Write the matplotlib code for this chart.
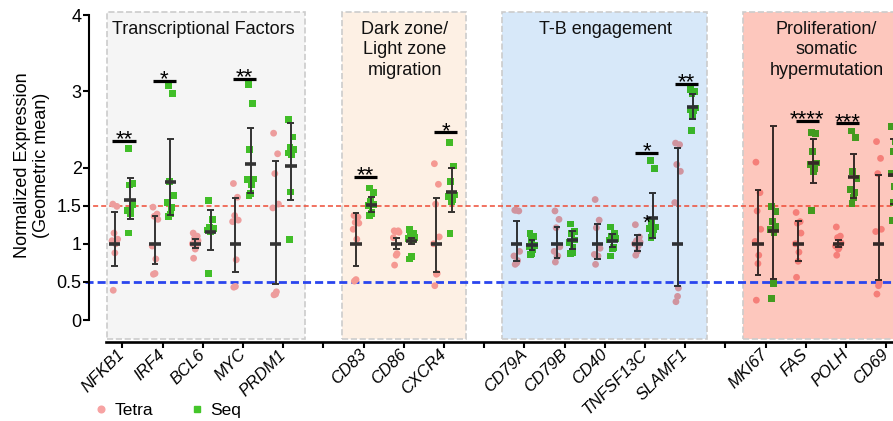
import matplotlib.pyplot as plt
from matplotlib.colors import to_rgb
from matplotlib.lines import Line2D
from matplotlib.patches import Rectangle

plt.rcParams['font.family'] = ['Liberation Sans', 'DejaVu Sans']

# groups of genes, shaded panels
group_titles = ['Transcriptional Factors', 'Dark zone/\nLight zone\nmigration',
                'T-B engagement', 'Proliferation/\nsomatic\nhypermutation']
group_genes = [['NFKB1', 'IRF4', 'BCL6', 'MYC', 'PRDM1'],
               ['CD83', 'CD86', 'CXCR4'],
               ['CD79A', 'CD79B', 'CD40', 'TNFSF13C', 'SLAMF1'],
               ['MKI67', 'FAS', 'POLH', 'CD69']]
group_colors = ['#F5F5F5', '#FDF0E4', '#D7E8F9', '#FDC7BD']

# individual values (normalized), same order as genes
tetra_points = [
    [1.52, 1.49, 1.14, 1.06, 1.04, 1.00, 0.88, 0.39],
    [1.48, 1.39, 1.36, 1.32, 0.97, 0.80, 0.61, 0.60],
    [1.14, 1.10, 1.07, 1.04, 1.00, 0.96, 0.93, 0.81],
    [1.79, 1.61, 1.37, 1.31, 1.29, 0.79, 0.44, 0.43],
    [2.45, 2.18, 1.92, 1.52, 1.47, 0.37, 0.34, 0.33],
    [1.37, 1.35, 1.28, 1.27, 1.19, 1.06, 0.53, 0.51],
    [1.17, 1.17, 1.16, 1.15, 1.08, 0.87, 0.85, 0.72],
    [2.05, 1.78, 1.52, 1.09, 1.00, 0.61, 0.60, 0.45],
    [1.44, 1.43, 1.44, 0.90, 0.84, 0.78, 0.75, 0.73],
    [1.43, 1.32, 1.21, 0.96, 0.90, 0.84, 0.83, 0.76],
    [1.58, 1.31, 1.21, 0.94, 0.86, 0.84, 0.83, 0.73],
    [1.25, 1.09, 1.04, 1.02, 1.00, 0.97, 0.90, 0.85],
    [2.32, 2.30, 2.04, 1.95, 1.54, 0.42, 0.31, 0.24],
    [2.07, 1.67, 1.43, 1.19, 1.03, 0.85, 0.74, 0.26],
    [1.41, 1.29, 1.27, 1.14, 1.00, 0.89, 0.77, 0.56],
    [1.22, 1.10, 1.08, 1.01, 0.97, 0.95, 0.93, 0.85],
    [2.34, 2.12, 1.92, 1.19, 1.16, 0.49, 0.45, 0.34],
]
seq_points = [
    [2.25, 1.79, 1.77, 1.52, 1.44, 1.43, 1.39, 1.14],
    [3.07, 2.97, 1.82, 1.63, 1.54, 1.48, 1.39, 1.36],
    [1.57, 1.32, 1.22, 1.20, 1.18, 1.17, 1.16, 0.61],
    [3.09, 2.84, 2.24, 1.85, 1.84, 1.78, 1.66, 1.63],
    [2.63, 2.40, 2.26, 2.24, 2.19, 2.17, 1.68, 1.06],
    [1.73, 1.67, 1.56, 1.52, 1.50, 1.41, 1.40, 1.37],
    [1.19, 1.13, 1.10, 1.08, 1.07, 1.06, 0.83, 0.80],
    [2.33, 2.02, 1.82, 1.64, 1.62, 1.58, 1.55, 1.13],
    [1.13, 1.09, 1.04, 0.98, 0.96, 0.92, 0.87, 0.86],
    [1.26, 1.16, 1.13, 1.05, 1.02, 0.95, 0.89, 0.87],
    [1.22, 1.14, 1.10, 1.07, 1.05, 0.95, 0.93, 0.84],
    [2.09, 1.99, 1.28, 1.22, 1.20, 1.18, 1.13, 1.08],
    [3.02, 3.00, 2.97, 2.78, 2.76, 2.74, 2.67, 2.49],
    [1.49, 1.42, 1.29, 1.23, 1.19, 1.14, 0.48, 0.28],
    [2.46, 2.45, 2.21, 2.06, 2.04, 1.99, 1.95, 1.44],
    [2.48, 2.39, 1.95, 1.86, 1.71, 1.67, 1.61, 1.53],
    [2.54, 2.34, 2.21, 2.10, 1.92, 1.75, 1.54, 1.31],
]

# geometric means and geometric SD factors
tetra_mean = [1.0] * 17
tetra_gsd = [1.42, 1.37, 1.06, 1.60, 2.09, 1.40, 1.08, 1.60, 1.30,
             1.22, 1.26, 1.11, 2.26, 1.71, 1.30, 1.05, 1.90]
seq_mean = [1.57, 1.81, 1.15, 2.05, 2.02, 1.51, 1.03, 1.68, 0.98,
            1.045, 1.04, 1.34, 2.80, 1.17, 2.06, 1.87, 1.90]
seq_gsd = [1.185, 1.315, 1.26, 1.23, 1.28, 1.07, 1.04, 1.19, 1.07,
           1.12, 1.08, 1.245, 1.06, 2.17, 1.15, 1.165, 1.25]

# significance
sig_genes = ['NFKB1', 'IRF4', 'MYC', 'CD83', 'CXCR4', 'TNFSF13C', 'SLAMF1', 'FAS', 'POLH']
sig_labels = ['**', '*', '**', '**', '*', '*', '**', '****', '***']
sig_heights = [2.35, 3.14, 3.16, 1.88, 2.46, 2.19, 3.10, 2.61, 2.58]

yticks = [0, 0.5, 1, 1.5, 2, 3, 4]

pink = '#F7A3A3'
green = '#44C62A'
dark = '#353535'


def tint(c, bg):
    # multiply-blend a colour with the panel colour
    return tuple(a * b for a, b in zip(to_rgb(c), to_rgb(bg)))


# slot positions with one empty slot between groups
genes, pos, gcol, spans = [], [], [], []
p = 0
for grp, col in zip(group_genes, group_colors):
    start = p
    for g in grp:
        genes.append(g)
        pos.append(p)
        gcol.append(col)
        p += 1
    spans.append((start, p - 1))
    p += 1

fig = plt.figure(figsize=(8.93, 4.21), dpi=100)
ax = fig.add_axes([106 / 893, 79 / 421, 787 / 893, 330.8 / 421])
xmin, xmax = -0.41, 19.17
ax.set_xlim(xmin, xmax)
ax.set_ylim(-0.2885, 4.05)

for (s, e), col, title in zip(spans, group_colors, group_titles):
    x0 = max(s - 0.55, xmin + 0.02)
    ax.add_patch(Rectangle((x0, -0.25), e + 0.55 - x0, 4.29, facecolor=col,
                           edgecolor='#CCCCCC', ls='--', lw=1.2, zorder=0))
    ax.text((s + e) / 2 + 0.02, 3.92, title, ha='center', va='top',
            fontsize=13, linespacing=1.25, color='#111111')

ax.plot([-0.93, xmax], [1.5, 1.5], ls=(0, (3.3, 2)), lw=1.1, color='#EE4B35',
        clip_on=False, zorder=1.5)
ax.plot([-0.93, xmax], [0.5, 0.5], ls=(0, (2.9, 1.45)), lw=2.0, color='#2A45EE',
        clip_on=False, zorder=1.5)

jit = [-0.05, 0.05, -0.02, 0.07, -0.07, 0.02, 0.0, -0.04]
off = 0.19
for i, x in enumerate(pos):
    bg = gcol[i]
    for side, pts, m, f, col, mk in [(-1, tetra_points[i], tetra_mean[i], tetra_gsd[i], pink, 'o'),
                                      (1, seq_points[i], seq_mean[i], seq_gsd[i], green, 's')]:
        cx = x + side * off
        xs = [cx + jit[k % len(jit)] for k in range(len(pts))]
        ax.scatter(xs, pts, marker=mk, s=24, color=tint(col, bg),
                   edgecolors='none', zorder=3)
        ec = tint(dark, bg)
        lo, hi = m / f, m * f
        ax.vlines(cx, lo, hi, color=ec, lw=1.4, zorder=4)
        ax.hlines([lo, hi], cx - 0.085, cx + 0.085, color=ec, lw=1.4, zorder=4)
        ax.hlines(m, cx - 0.14, cx + 0.14, color=ec, lw=2.6, zorder=4)

for g, lab, h in zip(sig_genes, sig_labels, sig_heights):
    x = pos[genes.index(g)] + 0.04
    ax.hlines(h, x - 0.29, x + 0.29, color='black', lw=2.3, zorder=5)
    ax.text(x, h - 0.06, lab, ha='center', va='baseline', fontsize=16, zorder=5)

# stray asterisk next to the TNFSF13C Seq mean
ax.text(pos[genes.index('TNFSF13C')] + 0.05, 1.2, '*', ha='center', va='baseline',
        fontsize=15, zorder=5)

# axes styling
for s in ['top', 'right']:
    ax.spines[s].set_visible(False)
ax.spines['left'].set_position(('outward', 12.2))
ax.spines['left'].set_bounds(0, 4)
ax.spines['left'].set_linewidth(1.5)
ax.spines['bottom'].set_linewidth(1.9)
ax.set_yticks(yticks)
ax.set_yticklabels(['0', '0.5', '1', '1.5', '2', '3', '4'])
ax.tick_params(axis='y', length=4.3, width=1.5, labelsize=13, pad=1)
ticks = list(range(20))
labels = [genes[pos.index(t)] if t in pos else '' for t in ticks]
ax.set_xticks(ticks)
ax.set_xticklabels(labels, rotation=45, ha='right', va='center', rotation_mode='anchor',
                   fontstyle='italic', fontsize=12)
ax.tick_params(axis='x', length=4.3, width=1.5, pad=3)

fig.text(32 / 893, 1 - 165 / 421, 'Normalized Expression\n(Geometric mean)', rotation=90,
         ha='center', va='center', fontsize=13, linespacing=1.2)

handles = [Line2D([], [], marker='o', ls='none', color=pink, ms=4.8),
           Line2D([], [], marker='s', ls='none', color=green, ms=4.8)]
fig.legend(handles, ['Tetra', 'Seq'], loc='center left', bbox_to_anchor=(92 / 893, 1 - 410 / 421),
           ncol=2, frameon=False, fontsize=12.5, handletextpad=0.3, columnspacing=2.0,
           handlelength=1.0, borderpad=0, borderaxespad=0)

fig.savefig('out.png', dpi=100)
